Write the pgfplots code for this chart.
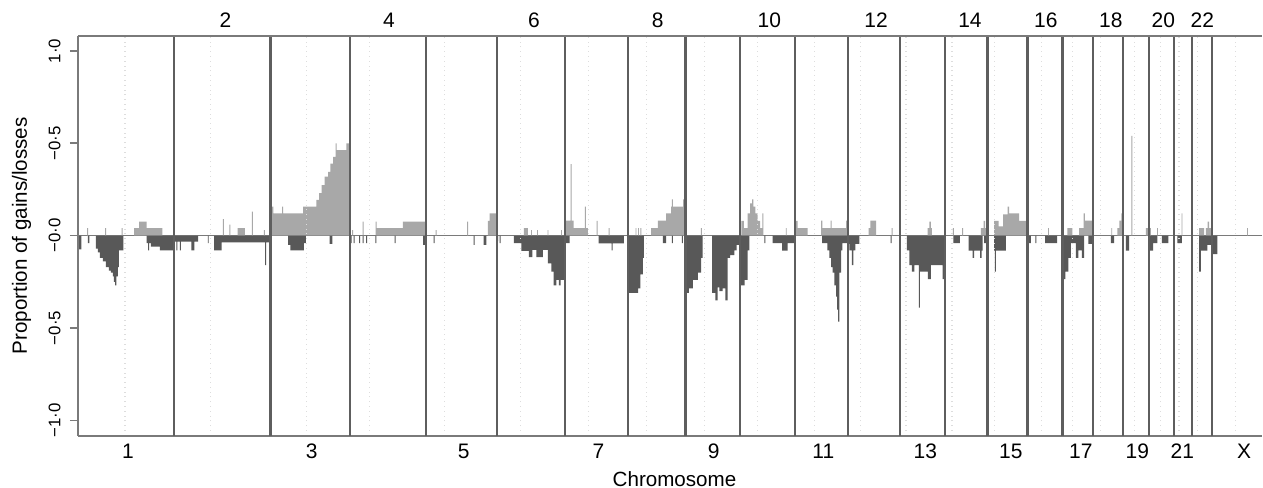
\documentclass[border=0pt]{standalone}
\usepackage{fontspec}
\setmainfont{Liberation Sans}
\usepackage{pgfplots}
\pgfplotsset{compat=1.18}
\definecolor{gaincol}{HTML}{A8A8A8}
\definecolor{losscol}{HTML}{585858}
\definecolor{sepcol}{HTML}{5E5E5E}
\definecolor{framecol}{HTML}{7A7A7A}
\definecolor{cencol}{HTML}{DDDDDD}
\begin{document}
\begin{tikzpicture}
\begin{axis}[
  name=main,
  scale only axis, width=592.5pt, height=200pt,
  xmin=78, xmax=1263, ymin=-1.083, ymax=1.081,
  axis x line=bottom, axis y line=left,
  axis line style={-, draw=framecol, line width=1pt},
  every outer x axis line/.append style={-},
  every outer y axis line/.append style={-},
  tick align=outside, major tick length=4pt, minor tick length=0pt,
  ytick={-1,-0.5,0,0.5,1},
  yticklabels={−1·0,−0·5,−0·0,−0·5,1·0},
  ytick style={draw=framecol, line width=0.8pt},
  yticklabel style={rotate=90, anchor=south, inner sep=0pt, font=\fontsize{8.4}{10}\selectfont},
  yticklabel shift=4.5pt,
  xtick={128,312,464,599,714.3,824,926,1011.7,1081.7,1138.3,1183.3,1245},
  xticklabels={1,3,5,7,9,11,13,15,17,19,21,X},
  xtick style={draw=none},
  xticklabel style={anchor=north, inner sep=0pt, font=\fontsize{10.5}{12}\selectfont},
  minor xtick={125,210.7,306.7,370,445,520.7,589,646.7,705,758,815,861,906.7,952.7,995,1042.7,1073.3,1101.7,1135,1161.7,1180,1198.3,1236.7},
  xminorgrids=true,
  minor grid style={cencol, dotted, line width=0.6pt},
  extra x ticks={174.3,270.7,350,426.3,497.7,565.3,628.7,686,741,795.3,848.7,901,946,988.3,1028.3,1063.3,1094,1124.3,1149.7,1174.7,1193,1213.3},
  extra x tick labels={},
  extra x tick style={xmajorgrids=true, major grid style={sepcol, line width=1.05pt}, tick style={draw=none}},
  axis on top=true,
  xlabel={Chromosome},
  xlabel style={at={(axis description cs:0.5038,-0.088)}, anchor=north, inner sep=0pt, font=\fontsize{10.3}{12}\selectfont},
  ylabel={Proportion of gains/losses},
  ylabel style={at={(axis description cs:-0.05595,0.5)}, anchor=north, rotate=0, inner sep=0pt, font=\fontsize{10.3}{12}\selectfont},
]
\addplot[framecol, line width=0.7pt, mark=none] coordinates {(78,0) (1263,0)};
% gains
\addplot[const plot mark left, fill=gaincol, draw=none, mark=none] coordinates {
(78,0)
(87.2,0.04)(88.2,0)(105.2,0.04)(106.2,0)(121.8,0.04)(122.8,0)(134.3,0.04)(139.3,0.076)(146.7,0.04)(162.5,0)
(223,0.09)(224,0)(229.5,0.06)(230.5,0)(237.7,0.04)(245,0)(252,0.13)(253,0)(264,0.03)(265,0)
(271,0.157)(273.5,0.121)(282.3,0.157)(283.3,0.121)(303.3,0.157)(316.7,0.193)(319.3,0.23)(322,0.274)(325,0.319)(328.3,0.345)(330.7,0.39)(333.3,0.426)(336,0.50)(337,0.463)(346.7,0.50)(349.5,0)
(352.5,0.03)(353.3,0)(363,0.076)(364,0)(376,0.076)(377,0.04)(403.3,0.076)(426,0)
(436,0.03)(437,0)(467.5,0.076)(468.5,0)(488.3,0.08)(490,0.12)(497,0)
(524.3,0.04)(528.3,0)(531.5,0.03)(532.3,0)(537.5,0.03)(538.3,0)(548,0.03)(548.8,0)(561.5,0.03)(562.3,0)
(565.7,0.081)(571,0.387)(572,0.081)(574,0.04)(585.3,0.157)(586.3,0.04)(588.3,0)(597,0.08)(598,0)(609,0.04)(610,0)
(636,0.04)(636.8,0)(638.5,0.04)(639.3,0)(641,0.04)(641.8,0)(651.7,0.04)(658.3,0.081)(666.7,0.12)(671.7,0.157)(672.3,0.196)(673.3,0.157)(683.7,0.196)(684.7,0.157)(685.7,0)
(701.5,0.04)(702.3,0)
(742,0.08)(744.5,0.04)(748.3,0.12)(750.7,0.175)(752.7,0.196)(754,0.157)(756,0.12)(758.3,0.08)(760.7,0.04)(763,0.12)(764,0)(786.5,0.04)(787.3,0)
(795.5,0.08)(798.3,0.04)(808.3,0)(821.7,0.081)(823,0.04)(831.3,0.081)(832.3,0.04)(846.7,0.081)(849.3,0)
(869.3,0.04)(871,0.081)(876.7,0)(892.3,0.04)(893.3,0)
(928.3,0.04)(930,0.076)(931.7,0.04)(932.7,0)
(953.7,0.04)(954.5,0)(963,0.04)(963.8,0)(981.7,0.04)(984.5,0.08)(985.8,0.04)(988,0)
(995,0.08)(999.3,0.05)(1004,0.115)(1008.5,0.157)(1010,0.12)(1020,0.08)(1027.7,0)
(1049,0.04)(1049.8,0)
(1068.3,0.04)(1073.3,0)(1080,0.04)(1084.5,0.12)(1085.7,0.081)(1094,0)
(1112.3,0.04)(1113.1,0)(1118.3,0.04)(1120.3,0.081)(1122.3,0.12)(1123.5,0.081)(1124,0)
(1132.3,0.54)(1133.3,0)
(1146.7,0.04)(1151.7,0)(1158,0.04)(1158.8,0)
(1182.5,0.12)(1183.3,0)
(1200,0.04)(1205,0)(1206.7,0.04)(1208.5,0.076)(1210,0.04)(1212.5,0)
(1248,0.04)(1248.8,0)
(1263,0)
} \closedcycle;
% losses
\addplot[const plot mark left, fill=losscol, draw=none, mark=none] coordinates {
(78,0)
(78.3,-0.075)(81.5,0)(88,-0.04)(89.5,0)(96,-0.07)(98,-0.09)(100,-0.12)(103,-0.14)(106,-0.17)(109,-0.19)(111,-0.20)(113,-0.22)(114,-0.25)(115.3,-0.27)(116.5,-0.22)(118,-0.17)(119,-0.08)(123.5,0)(146.7,-0.04)(148.3,-0.08)(149.3,-0.04)(151,-0.06)(160,-0.08)
(174.3,-0.032)(176.5,-0.08)(177.5,-0.032)(180,-0.08)(181,-0.032)(191.5,-0.08)(194.5,-0.032)(198.3,0)(208,-0.04)(208.8,0)(214.3,-0.08)(221.7,-0.036)(265.3,-0.16)(266.3,-0.036)(270.7,0)
(271,-0.03)(272,0)(288.3,-0.05)(290.5,-0.08)(304,-0.04)(306,0)(330,-0.045)(332.7,0)
(351,-0.04)(352,0)(354,-0.04)(355,0)(359.5,-0.04)(360.5,0)(363,-0.04)(364,0)(366.5,-0.04)(367.5,0)(375.7,-0.04)(376.7,0)(395,-0.04)(396,0)(423.5,-0.05)(426.3,0)
(434,-0.04)(435,0)(474,-0.05)(475,0)(484,-0.05)(486.7,0)(496.8,-0.03)(498.5,0)
(500,-0.04)(501,0)(514.3,-0.041)(521.7,-0.083)(529.3,-0.117)(532.7,-0.077)(536.7,-0.117)(543.3,-0.077)(548.3,-0.15)(551.7,-0.195)(554,-0.27)(556.7,-0.24)(559.3,-0.27)(561,-0.24)(565.3,0)
(566.5,-0.04)(570,0)(599,-0.042)(612,-0.08)(613,-0.042)(624.3,0)
(628.7,-0.31)(638.7,-0.285)(641,-0.21)(643.3,-0.12)(644.5,0)(663.3,-0.041)(666.7,0)(672.5,-0.041)(673.3,0)(682.5,-0.041)(683.3,0)
(686,-0.31)(689.3,-0.285)(693.3,-0.24)(698.3,-0.2)(701.7,-0.12)(703.3,0)(712.7,-0.31)(716,-0.35)(718.3,-0.28)(720,-0.30)(723.3,-0.285)(726,-0.35)(728.3,-0.12)(730.7,-0.105)(735,-0.08)(737.3,-0.05)
(741,-0.27)(745.3,-0.24)(748.3,-0.08)(750,0)(765,-0.04)(766,0)(773.3,-0.041)(782.7,-0.081)(788.3,-0.041)(795,0)
(822.7,-0.041)(828,-0.08)(830,-0.12)(831.7,-0.17)(833.3,-0.2)(835,-0.27)(836.7,-0.33)(837.7,-0.40)(838.7,-0.465)(840,-0.2)(841.7,-0.08)(843,-0.041)
(848.7,-0.045)(850,-0.08)(852.5,-0.16)(854,-0.08)(856,-0.045)(860,0)(891.3,-0.041)(892.3,0)
(907.5,-0.08)(910,-0.16)(912.7,-0.195)(915,-0.16)(919.5,-0.39)(920.5,-0.195)(928.5,-0.235)(931.7,-0.16)(943.3,-0.235)(946,0)
(954,-0.041)(960.7,0)(969.3,-0.081)(973.5,-0.12)(974.8,-0.081)(981,-0.12)(982.3,-0.081)(983.3,0)(985,-0.041)(987.7,0)
(995,-0.081)(995.7,-0.195)(996.7,-0.081)(1006.7,0)
(1029.3,-0.041)(1031.7,0)(1036.3,-0.041)(1037.3,0)(1046,-0.041)(1058,0)
(1063.3,-0.235)(1066.3,-0.195)(1069.3,-0.12)(1071.7,-0.041)(1076.7,-0.12)(1079.3,-0.08)(1082.7,-0.12)(1085,0)(1089.3,-0.045)(1094.5,0)
(1111.7,-0.041)(1115,0)
(1126.7,-0.081)(1130,0)
(1150,-0.081)(1154,-0.041)(1158.3,0)(1162.7,-0.041)(1169.3,0)
(1178.3,-0.041)(1182.7,0)
(1200,-0.195)(1201.7,-0.081)(1208.3,-0.05)(1213.3,-0.1)(1218.3,0)
(1263,0)
} \closedcycle;
\end{axis}
\begin{axis}[
  at={(main.south west)}, anchor=south west,
  scale only axis, width=592.5pt, height=200pt,
  xmin=78, xmax=1263, ymin=-1.083, ymax=1.081,
  axis x line*=top, axis y line=none,
  axis line style={-, draw=framecol, line width=1pt},
  every outer x axis line/.append style={-},
  tick align=outside, major tick length=4pt,
  ytick=\empty,
  xtick={225.7,389.3,534.3,658.3,770,876.7,970.7,1046.7,1111.7,1164.3,1203.3},
  xticklabels={2,4,6,8,10,12,14,16,18,20,22},
  xtick style={draw=none},
  xticklabel style={anchor=south, inner sep=0pt, font=\fontsize{10.5}{12}\selectfont},
]
\addplot[draw=none, mark=none] coordinates {(78,0) (1263,0)};
\end{axis}
\path ([shift={(-39pt,-26pt)}]main.south west) rectangle ([yshift=18pt]main.north east);
\end{tikzpicture}
\end{document}
